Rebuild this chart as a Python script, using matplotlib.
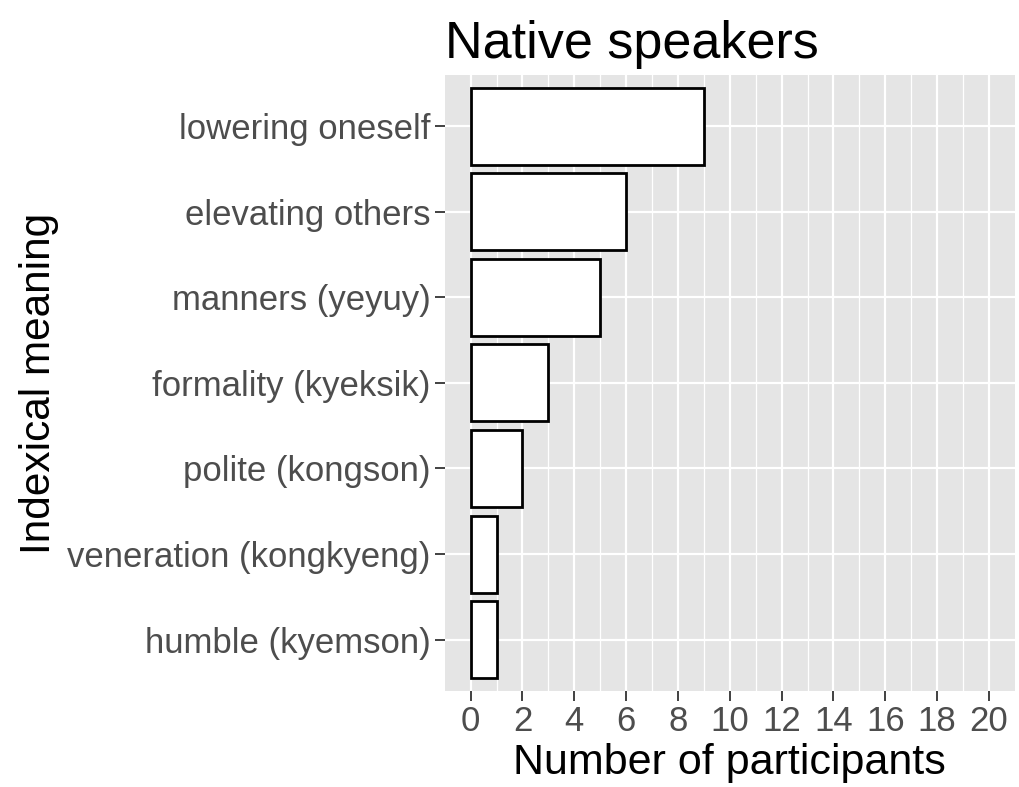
import matplotlib.pyplot as plt
import numpy as np

plt.rcParams['font.family'] = ['Liberation Sans', 'DejaVu Sans']

categories = ["lowering oneself", "elevating others", "manners (yeyuy)",
              "formality (kyeksik)", "polite (kongson)",
              "veneration (kongkyeng)", "humble (kyemson)"]
counts = [9, 6, 5, 3, 2, 1, 1]
x_ticks = list(range(0, 21, 2))

fig = plt.figure(figsize=(10.2, 7.87), dpi=100)
ax = fig.add_axes([0.436, 0.122, 0.559, 0.783])

y = np.arange(len(categories))[::-1]
ax.set_facecolor("#E5E5E5")
ax.barh(y, counts, height=0.9, color="white", edgecolor="black", linewidth=2, zorder=3)

ax.set_xlim(-1, 21)
ax.set_ylim(-0.6, len(categories) - 0.4)
ax.set_xticks(x_ticks)
ax.set_xticks(range(1, 21, 2), minor=True)
ax.set_yticks(y)
ax.set_yticklabels(categories)

ax.grid(True, which="major", color="white", linewidth=1.6, zorder=0)
ax.grid(True, which="minor", axis="x", color="white", linewidth=0.9, zorder=0)
ax.set_axisbelow(True)
for s in ax.spines.values():
    s.set_visible(False)

ax.tick_params(axis="both", which="major", labelsize=25, labelcolor="#4D4D4D",
               color="#333333", length=7, width=1.3, pad=3)
ax.tick_params(axis="x", which="minor", length=0)

ax.set_xlabel("Number of participants", fontsize=31, labelpad=4)
ax.set_ylabel("Indexical meaning", fontsize=30.5, labelpad=6)
ax.set_title("Native speakers", fontsize=37.5, pad=12, loc="left", x=0.0)

fig.savefig("out.png", dpi=100)
